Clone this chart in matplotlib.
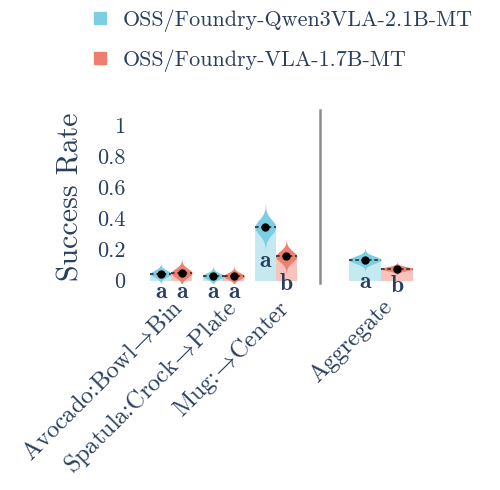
import numpy as np
import matplotlib
matplotlib.use("Agg")
import matplotlib.pyplot as plt
from matplotlib.lines import Line2D

TEXT = "#2a3f5f"
C_QWEN = "#7ccfe2"
C_VLA = "#ee7e6d"

models = ["OSS/Foundry-Qwen3VLA-2.1B-MT", "OSS/Foundry-VLA-1.7B-MT"]
ARROW = "$\\!\\rightarrow\\!$"
tasks = ["Avocado:Bowl" + ARROW + "Bin", "Spatula:Crock" + ARROW + "Plate", "Mug:" + ARROW + "Center"]

# mean success rate and spread of the bootstrap distribution per task
qwen_mean = [0.045, 0.030, 0.345]
qwen_sd = [0.022, 0.020, 0.048]
vla_mean = [0.050, 0.030, 0.156]
vla_sd = [0.028, 0.020, 0.035]
qwen_letters = ["a", "a", "a"]
vla_letters = ["a", "a", "b"]

agg_label = ["Aggregate"]
agg_qwen_mean = [0.135]
agg_qwen_sd = [0.023]
agg_vla_mean = [0.077]
agg_vla_sd = [0.013]
agg_qwen_letters = ["a"]
agg_vla_letters = ["b"]

plt.rcParams["font.family"] = ["cmr10", "DejaVu Serif"]
plt.rcParams["mathtext.fontset"] = "cm"
plt.rcParams["axes.formatter.use_mathtext"] = True


def violin(ax, x, m, s, w, color):
    y = np.linspace(m - 3.2 * s, m + 3.2 * s, 200)
    d = np.exp(-0.5 * ((y - m) / s) ** 2)
    half = d / d.max() * w / 2
    ax.fill_betweenx(y, x - half, x + half, color=color, lw=0, zorder=3)
    ax.plot([x - w / 2, x + w / 2], [m, m], ls=(0, (2, 1.5)), color="#3a3a3a", lw=1.3, zorder=4)
    ax.plot([x], [m], "o", color="black", ms=5, zorder=5)


def draw_group(ax, labels, series):
    x = np.arange(len(labels))
    w = 0.4
    for off, (means, sds, letters, color) in zip([-w / 2, w / 2], series):
        for xi, m, s, let in zip(x + off, means, sds, letters):
            ax.bar(xi, m, width=w, color=color, alpha=0.45, lw=0, zorder=2)
            violin(ax, xi, m, s, w, color)
            lo = max(m - 3 * s, 0)
            ax.text(xi, lo - 0.075, let, ha="center", va="center", fontsize=17,
                    color=TEXT, family="cmb10", zorder=6, clip_on=False)
    ax.set_xlim(-0.5, len(labels) - 0.5)
    ax.set_ylim(-0.015, 1.1)
    ax.set_xticks(x)
    ax.set_xticklabels(labels, rotation=45, ha="right", rotation_mode="anchor",
                       fontsize=17.5, color=TEXT)
    ax.tick_params(axis="x", length=0, pad=9)
    for sp in ax.spines.values():
        sp.set_visible(False)


fig = plt.figure(figsize=(5.0, 4.9), dpi=100)
bottom = 1 - 283 / 490
height = 173 / 490
ax1 = fig.add_axes([145 / 500, bottom, 157 / 500, height])
ax2 = fig.add_axes([341 / 500, bottom, 80 / 500, height])

draw_group(ax1, tasks, [(qwen_mean, qwen_sd, qwen_letters, C_QWEN),
                        (vla_mean, vla_sd, vla_letters, C_VLA)])
draw_group(ax2, agg_label, [(agg_qwen_mean, agg_qwen_sd, agg_qwen_letters, C_QWEN),
                            (agg_vla_mean, agg_vla_sd, agg_vla_letters, C_VLA)])

yt = [0, 0.2, 0.4, 0.6, 0.8, 1]
ax1.set_yticks(yt)
ax1.set_yticklabels([f"{v:g}" for v in yt], fontsize=16, color=TEXT)
ax1.tick_params(axis="y", length=0, pad=14)
ax1.set_ylabel("Success Rate", fontsize=21.5, color=TEXT, labelpad=9)
ax2.set_yticks([])

# separator between per-task panel and aggregate panel
fig.add_artist(Line2D([320 / 500, 320 / 500], [bottom, bottom + height],
                      transform=fig.transFigure, color="#8c8c8c", lw=1.8))

handles = [Line2D([], [], marker="s", ls="none", ms=9, color=c) for c in (C_QWEN, C_VLA)]
leg = fig.legend(handles, models, loc="upper left", bbox_to_anchor=(0.133, 1.022),
                 frameon=False, fontsize=15.9, handletextpad=0.45, labelspacing=0.8,
                 handlelength=1.2)
for t in leg.get_texts():
    t.set_color(TEXT)

fig.savefig("out.png", dpi=100)
